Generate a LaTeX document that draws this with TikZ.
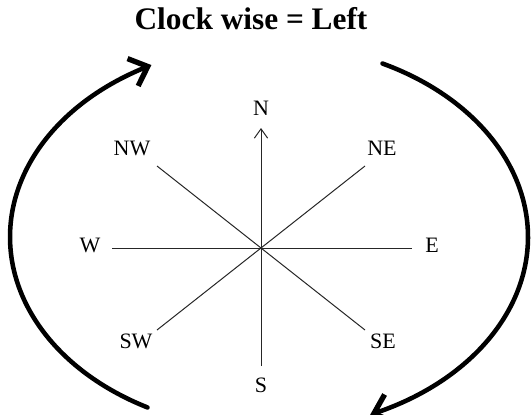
\documentclass[tikz,border=0pt]{standalone}
\usepackage{fontspec}
\setmainfont{Liberation Serif}
\usetikzlibrary{arrows.meta}
\tikzset{
  lbl/.style={font=\fontsize{16.5pt}{16.5pt}\selectfont, inner sep=0pt, anchor=base},
  spoke/.style={line width=0.75pt, black!85},
  bigarc/.style={line width=3.4pt, line cap=round, -{Straight Barb[length=12pt,width=22pt,line width=4pt]}},
}
\begin{document}
\begin{tikzpicture}[x=0.75pt,y=-0.75pt]
\useasboundingbox (0,0) rectangle (531,414);
\node[font=\bfseries\fontsize{23.5pt}{23.5pt}\selectfont, inner sep=0pt, anchor=base] (title) at (251,29) {Clock wise = Left};
% labels
\node[lbl] (N) at (261,115) {N};
\node[lbl] (S) at (261,392) {S};
\node[lbl] (W) at (90,252) {W};
\node[lbl] (E) at (432,252) {E};
\node[lbl] (NW) at (132,155) {NW};
\node[lbl] (NE) at (382,155) {NE};
\node[lbl] (SW) at (136,348) {SW};
\node[lbl] (SE) at (383,348) {SE};
% spoke ends
\coordinate (n) at (261,128);
\coordinate (s) at (261,366);
\coordinate (w) at (112,248);
\coordinate (e) at (412,248);
\coordinate (nw) at (157,166);
\coordinate (ne) at (365,166);
\coordinate (sw) at (157,330);
\coordinate (se) at (365,330);
\draw[spoke, -{Straight Barb[length=7pt,width=10pt,line width=0.75pt]}] (s) -- (n);
\draw[spoke] (w) -- (e);
\draw[spoke] (nw) -- (se);
\draw[spoke] (ne) -- (sw);
% arcs
\draw[bigarc] plot[domain=242:117, samples=60, smooth] ({269+259*cos(\x)},{237-193*sin(\x)});
\draw[bigarc] plot[domain=64:-67, samples=60, smooth] ({269+259*cos(\x)},{237-193*sin(\x)});
\end{tikzpicture}
\end{document}
